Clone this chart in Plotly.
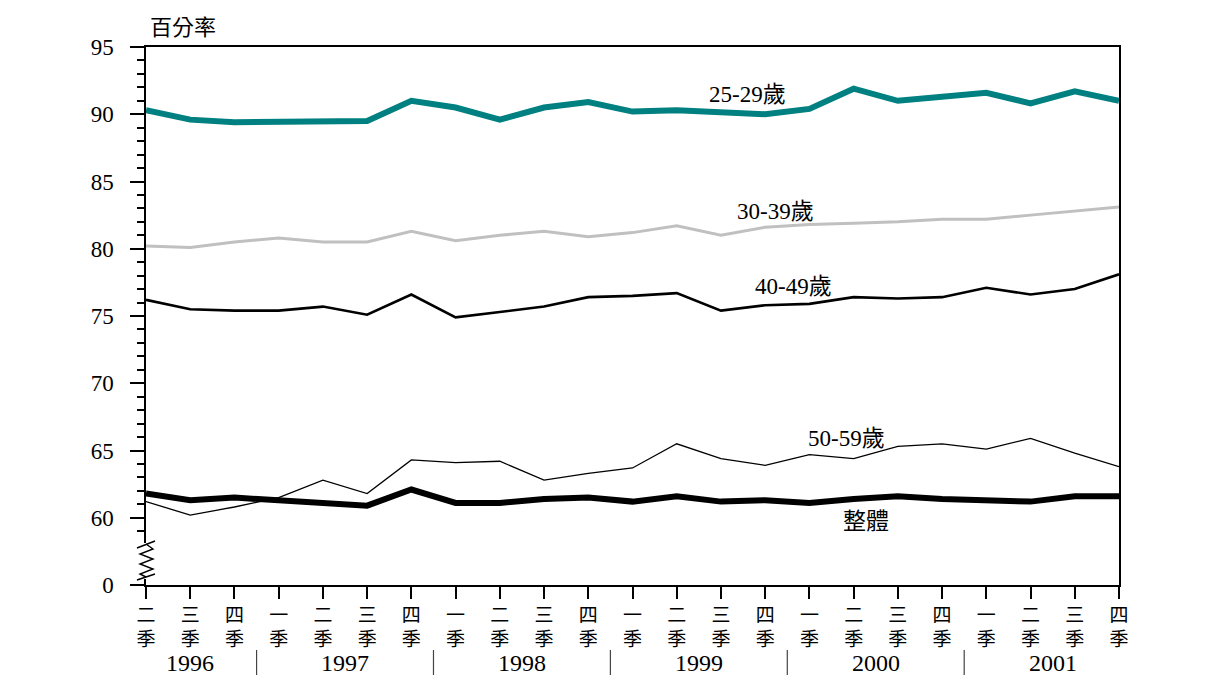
import plotly.graph_objects as go

# ---------------- data ----------------
quarter_labels = ["二", "三", "四",
                  "一", "二", "三", "四",
                  "一", "二", "三", "四",
                  "一", "二", "三", "四",
                  "一", "二", "三", "四",
                  "一", "二", "三", "四"]
years = ["1996", "1997", "1998", "1999", "2000", "2001"]
quarters_per_year = [3, 4, 4, 4, 4, 4]

age_25_29 = [90.3, 89.6, 89.4, 89.4, 89.5, 89.5, 91.0, 90.5, 89.6, 90.5, 90.9, 90.2,
             90.3, 90.2, 90.0, 90.4, 91.9, 91.0, 91.3, 91.6, 90.8, 91.7, 91.0]
age_30_39 = [80.2, 80.1, 80.5, 80.8, 80.5, 80.5, 81.3, 80.6, 81.0, 81.3, 80.9, 81.2,
             81.7, 81.0, 81.6, 81.8, 81.9, 82.0, 82.2, 82.2, 82.5, 82.8, 83.1]
age_40_49 = [76.2, 75.5, 75.4, 75.4, 75.7, 75.1, 76.6, 74.9, 75.3, 75.7, 76.4, 76.5,
             76.7, 75.4, 75.8, 75.9, 76.4, 76.3, 76.4, 77.1, 76.6, 77.0, 78.1]
age_50_59 = [61.2, 60.2, 60.8, 61.5, 62.8, 61.8, 64.3, 64.1, 64.2, 62.8, 63.3, 63.7,
             65.5, 64.4, 63.9, 64.7, 64.4, 65.3, 65.5, 65.1, 65.9, 64.8, 63.8]
overall = [61.8, 61.3, 61.5, 61.3, 61.1, 60.9, 62.1, 61.1, 61.1, 61.4, 61.5, 61.2,
           61.6, 61.2, 61.3, 61.1, 61.4, 61.6, 61.4, 61.3, 61.2, 61.6, 61.6]

series_names = ["25-29歲", "30-39歲", "40-49歲", "50-59歲", "整體"]

# y axis: broken axis, bottom tick shown as "0"
y_tick_vals = [55, 60, 65, 70, 75, 80, 85, 90, 95]
y_tick_text = ["0", "60", "65", "70", "75", "80", "85", "90", "95"]
y_minor_vals = [v for v in range(59, 95) if v % 5 != 0]

# ---------------- figure ----------------
BODY = 8  # browser default body margin
W, H = 1211 - BODY, 668
PL, PR, PT, PB = 146, 1119, 47, 585   # target plot box in screenshot pixels
PW, PH = PR - PL, PB - PT
ML, MT = PL - BODY, PT - BODY
MR, MB = W - ML - PW, H - MT - PH

x = list(range(len(quarter_labels)))
SERIF = "Liberation Serif, Times New Roman, serif"
CJK = "Noto Sans CJK TC, Noto Sans CJK SC, sans-serif"
MIX = "Liberation Serif, Noto Sans CJK TC, serif"

styles = [
    dict(color="#008080", width=6),
    dict(color="#c0c0c0", width=3),
    dict(color="#000000", width=2.6),
    dict(color="#000000", width=1.3),
    dict(color="#000000", width=6),
]
data = [age_25_29, age_30_39, age_40_49, age_50_59, overall]

fig = go.Figure()
for name, vals, st in zip(series_names, data, styles):
    fig.add_trace(go.Scatter(x=x, y=vals, mode="lines", name=name,
                             line=dict(color=st["color"], width=st["width"]),
                             hoverinfo="skip"))


def px(xp, yp):
    """screenshot pixel -> paper coords"""
    return (xp - PL) / PW, (PB - yp) / PH


# series labels (position in data units)
label_pos = [(13.61, 91.5), (14.24, 82.8), (14.63, 77.2), (15.83, 65.9), (16.28, 59.9)]
for name, (lx, ly) in zip(series_names, label_pos):
    fig.add_annotation(x=lx, y=ly, xref="x", yref="y", text=name, showarrow=False,
                       font=dict(family=CJK if name == "整體" else MIX, size=23, color="black"),
                       xanchor="center", yanchor="middle")

# y-axis title
tx, ty = px(148, 25)
fig.add_annotation(x=tx, y=ty, xref="paper", yref="paper", text="百分率",
                   showarrow=False, xanchor="left", yanchor="middle",
                   font=dict(family=CJK, size=22, color="black"))

# year labels and separators
start = 0
_, y_year = px(0, 663)
_, y_sep0 = px(0, 650)
_, y_sep1 = px(0, 675)
for i, (yr, n) in enumerate(zip(years, quarters_per_year)):
    center = start + (n - 1) / 2
    fig.add_annotation(x=center, y=y_year, xref="x", yref="paper", text=yr,
                       showarrow=False, xanchor="center", yanchor="middle",
                       font=dict(family=SERIF, size=24, color="black"))
    if i > 0:
        sep = start - 0.5
        fig.add_shape(type="line", xref="x", yref="paper", x0=sep, x1=sep,
                      y0=y_sep0, y1=y_sep1,
                      line=dict(color="#444444", width=1.2))
    start += n

# axis-break zigzag on y axis
c0 = px(142, 543)
c1 = px(150, 579)
fig.add_shape(type="rect", xref="paper", yref="paper",
              x0=c0[0], y0=c1[1], x1=c1[0], y1=c0[1],
              fillcolor="white", line=dict(width=0), layer="above")
zig = [(137, 548), (155, 541)]
zz = [(146, 544), (153, 549), (140, 554), (153, 559), (140, 564), (153, 569), (140, 574), (146, 577)]
bot = [(137, 580), (155, 574)]


def path(points):
    p = []
    for k, (a, b) in enumerate(points):
        u, v = px(a, b)
        p.append(("M" if k == 0 else "L") + f"{u:.5f},{v:.5f}")
    return " ".join(p)


for pts in (zig, zz, bot):
    fig.add_shape(type="path", xref="paper", yref="paper", path=path(pts),
                  line=dict(color="black", width=1.4), layer="above")

# outer frame line (right edge of the enclosing box)
u, _ = px(1207, 0)
_, v0 = px(0, 0)
_, v1 = px(0, 690)
fig.add_shape(type="line", xref="paper", yref="paper", x0=u, x1=u, y0=v0, y1=v1,
              line=dict(color="black", width=1.5))

fig.update_layout(
    width=W, height=H,
    margin=dict(l=ML, r=MR, t=MT, b=MB, pad=0),
    paper_bgcolor="white", plot_bgcolor="white",
    showlegend=False,
    xaxis=dict(range=[0, len(x) - 1], tickmode="array", tickvals=x,
               ticktext=[q + "<br>季" for q in quarter_labels],
               ticks="outside", ticklen=12, tickwidth=1.5, tickcolor="black",
               showline=True, linecolor="black", linewidth=1.5, mirror=True,
               showgrid=False, zeroline=False,
               tickfont=dict(family=CJK, size=19, color="black")),
    yaxis=dict(range=[55, 95], tickmode="array", tickvals=y_tick_vals, ticktext=y_tick_text,
               ticks="outside", ticklen=14, tickwidth=1.5, tickcolor="black",
               ticklabelstandoff=12,
               minor=dict(tickmode="array", tickvals=y_minor_vals, ticks="outside",
                          ticklen=7, tickwidth=1.5, tickcolor="black", showgrid=False),
               showline=True, linecolor="black", linewidth=1.5, mirror=True,
               showgrid=False, zeroline=False,
               tickfont=dict(family=SERIF, size=23, color="black")),
)

fig.write_html("out.html")
